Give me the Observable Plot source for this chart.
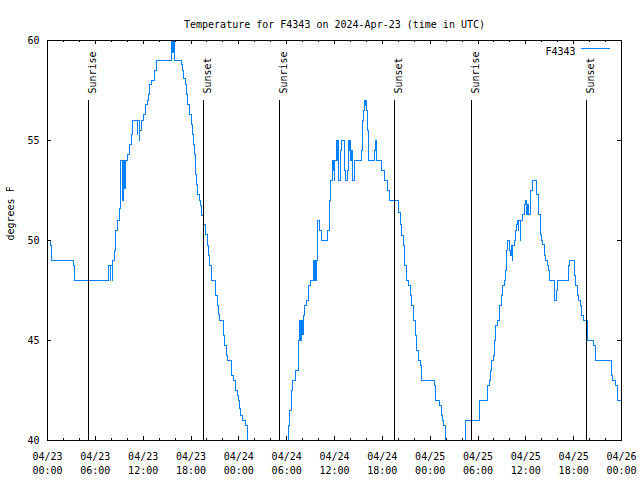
<!DOCTYPE html>
<html>
<head>
<meta charset="utf-8">
<script src="https://cdn.jsdelivr.net/npm/d3@7"></script>
<script src="https://cdn.jsdelivr.net/npm/@observablehq/plot@0.6"></script>
<style>
  html, body { margin: 0; padding: 0; background: #fff; }
</style>
</head>
<body>
<div id="chart"></div>
<script>
// ---- data (hours since 2024-04-23 00:00 UTC, temperature in °F) ----
const hours = [
  0, 0.38, 0.54, 3.22, 3.39, 7.65, 7.87, 7.94, 8.12, 8.19, 8.40, 8.57, 8.74, 8.99,
  9.19, 9.45, 9.53, 9.70, 9.78, 10.07, 10.32, 10.50, 10.66, 11.25, 11.35, 11.48, 11.58,
  11.75, 12.08, 12.33, 12.51, 12.67, 12.83, 13.01, 13.42, 13.67, 15.59, 15.72, 15.81, 15.89,
  16.77, 16.93, 17.10, 17.27, 17.44, 17.60, 17.85, 18.03, 18.19, 18.28, 18.44, 18.53, 18.60,
  18.73, 18.85, 19.03, 19.19, 19.36, 19.61, 19.86, 20.03, 20.20, 20.36, 20.53, 21.04, 21.29,
  21.45, 21.54, 22.04, 22.20, 22.45, 22.62, 23.04, 23.29, 23.55, 23.80, 23.96, 24.12, 24.21,
  24.46, 24.87, 25.05, 25.15, 26.97, 28.73,
  30.07, 30.27, 30.39, 30.57, 30.70, 31.15, 31.45, 31.52, 31.67, 31.77, 31.86, 31.95, 32.08,
  32.24, 32.49, 32.74, 32.99, 33.33, 33.41, 33.49, 33.58, 33.74, 33.91, 34.16, 34.41, 35.16,
  35.34, 35.37, 35.46, 35.54, 35.71, 35.79, 35.88, 35.96, 36.04, 36.21, 36.29, 36.38, 36.47,
  36.54, 36.72, 36.88, 37.22, 37.29, 37.38, 37.63, 37.72, 37.80, 37.88, 37.97, 38.05, 38.13,
  38.30, 38.47, 38.55, 39.39, 39.48, 39.55, 39.64, 39.73, 39.80, 39.89, 39.98, 40.05, 40.14,
  40.23, 40.30, 40.98, 41.14, 41.23, 41.31, 41.90, 42.24, 42.65, 42.90, 44.03, 44.28, 44.44,
  44.62, 44.78, 45.03, 45.28, 45.53, 45.70, 45.95, 46.12, 46.29, 46.54, 46.79, 46.95, 48.55,
  48.67, 49.21, 49.39, 49.55, 49.71, 49.89, 49.99, 51.18,
  52.22, 52.40, 52.47, 54.15, 54.23, 55.16, 55.41, 55.57, 55.73, 55.91, 56.07, 56.24, 56.49,
  56.66, 56.74, 56.91, 57.11, 57.29, 57.45, 57.62, 57.70, 57.95, 58.12, 58.20, 58.29, 58.37,
  58.54, 58.71, 58.87, 58.96, 59.04, 59.12, 59.30, 59.37, 59.55, 59.80, 59.96, 60.05, 60.21,
  60.34, 60.63, 60.80, 61.30, 61.38, 61.55, 61.63, 61.81, 61.88, 61.97, 62.13, 62.31, 62.38,
  62.47, 62.72, 62.81, 62.97, 63.56, 63.64, 63.81, 63.97, 65.39, 65.48, 66.07, 66.14, 66.27,
  66.44, 66.61, 66.86, 67.02, 67.20, 67.70, 68.53, 68.78, 70.71, 70.87, 71.29, 71.46, 72
];
const tempF = [
  50.0, 49.75, 49.0, 48.75, 48.0, 48.75, 48.0, 48.75, 48.0, 49.0, 49.5, 50.5, 51.0, 51.6,
  54.0, 52.0, 54.0, 52.6, 54.0, 54.3, 54.8, 55.3, 56.0, 55.3, 56.0, 55.0, 55.5,
  56.0, 56.3, 56.8, 57.0, 57.3, 57.8, 58.0, 58.5, 59.0, 60.0, 59.4, 60.0, 59.0,
  58.8, 58.5, 58.1, 57.8, 57.3, 56.8, 56.3, 55.8, 55.3, 54.8, 54.3, 53.8, 53.3,
  52.8, 52.3, 52.0, 51.75, 51.25, 50.8, 50.3, 49.75, 49.25, 48.75, 48.0, 47.25, 46.75,
  46.3, 46.0, 45.25, 44.75, 44.25, 44.0, 43.25, 43.0, 42.5, 42.25, 42.0, 41.6, 41.25,
  41.0, 40.75, 40.0, 39.5, 39.0, 39.5,
  40.0, 40.75, 41.5, 42.5, 43.0, 43.5, 44.5, 45.0, 46.0, 45.0, 46.0, 45.3, 46.25,
  46.75, 47.0, 47.75, 48.0, 49.0, 48.0, 49.0, 48.0, 49.0, 51.0, 50.5, 50.0, 50.5,
  51.5, 52.0, 52.5, 53.0, 53.7, 54.0, 53.5, 53.0, 54.0, 54.5, 55.0, 54.0, 55.0,
  53.0, 54.5, 55.0, 54.5, 53.5, 53.0, 53.5, 54.0, 55.0, 54.5, 55.0, 54.0, 54.5,
  53.0, 53.5, 54.0, 54.5, 55.5, 56.0, 56.5, 56.75, 57.0, 56.75, 57.0, 56.5, 55.5,
  54.5, 54.0, 54.5, 55.0, 54.5, 54.0, 53.5, 53.0, 52.5, 52.0, 51.4, 50.8, 50.25,
  49.75, 48.75, 48.0, 47.75, 47.25, 46.75, 46.0, 45.25, 44.5, 44.0, 43.75, 43.0, 42.75,
  42.0, 41.75, 41.25, 41.0, 40.75, 40.0, 39.5, 39.25,
  40.0, 40.75, 41.0, 41.75, 42.0, 42.75, 43.0, 43.5, 44.0, 44.25, 45.0, 45.75, 46.0,
  46.25, 46.75, 47.25, 47.75, 48.0, 48.5, 49.5, 50.0, 49.5, 49.25, 49.75, 49.0, 49.75,
  50.0, 50.5, 50.8, 51.0, 50.5, 51.0, 50.0, 51.0, 51.3, 51.8, 52.0, 51.3, 51.8,
  51.3, 52.5, 53.0, 52.8, 52.3, 51.8, 51.3, 50.8, 50.3, 50.0, 49.8, 49.5, 49.25,
  49.0, 48.75, 48.5, 48.0, 47.75, 47.0, 47.5, 48.0, 48.75, 49.0, 48.75, 48.25, 47.75,
  47.25, 47.0, 46.75, 46.25, 46.0, 45.0, 44.75, 44.0, 43.25, 43.0, 42.75, 42.0, 42.0
];
const sunHours = [5.18, 19.61, 29.14, 43.57, 53.22, 67.65];
const sunLabels = ["Sunrise", "Sunset", "Sunrise", "Sunset", "Sunrise", "Sunset"];
const xTickHours = [0, 6, 12, 18, 24, 30, 36, 42, 48, 54, 60, 66, 72];
const xMinorHours = [2, 4, 8, 10, 14, 16, 20, 22, 26, 28, 32, 34, 38, 40, 44, 46, 50, 52, 56, 58, 62, 64, 68, 70];
const yTicks = [40, 45, 50, 55, 60];
const titleText = "Temperature for F4343 on 2024-Apr-23 (time in UTC)";
const yLabel = "degrees F";
const seriesName = "F4343";

// ---- build ----
const t0 = Date.UTC(2024, 3, 23);
const toDate = h => new Date(t0 + h * 3600e3);
const records = hours.map((h, i) => ({date: toDate(h), temp: tempF[i]}));
const majorDates = xTickHours.map(toDate);
const minorDates = xMinorHours.map(toDate);
const sunEvents = sunHours.map((h, i) => ({date: toDate(h), label: sunLabels[i]}));

const W = 640, H = 480, ML = 47, MR = 19, MT = 40, MB = 40;
const FW = W - ML - MR, FH = H - MT - MB;
const fmtD = d3.utcFormat("%m/%d"), fmtT = d3.utcFormat("%H:%M");
const blue = "#0080ff";
const crisp = "crispEdges";

const chart = Plot.plot({
  width: W, height: H,
  marginLeft: ML, marginRight: MR, marginTop: MT, marginBottom: MB,
  style: {fontFamily: "'DejaVu Sans Mono', monospace", fontSize: "10px", background: "#fff", color: "#000"},
  x: {type: "utc", domain: [toDate(0), toDate(72)]},
  y: {domain: [40, 60]},
  marks: [
    Plot.line(records, {x: "date", y: "temp", curve: "step-after", stroke: blue, strokeWidth: 1, clip: true, shapeRendering: crisp}),
    Plot.ruleX(sunEvents, {x: "date", insetTop: 60, stroke: "#000", strokeWidth: 1, shapeRendering: crisp}),
    Plot.text(sunEvents, {x: "date", text: "label", frameAnchor: "top", dy: 53, dx: 0.5, rotate: -90, textAnchor: "start", fill: "#000"}),
    Plot.tickX(majorDates, {x: d => d, insetTop: FH - 4, stroke: "#000", shapeRendering: crisp}),
    Plot.tickX(majorDates, {x: d => d, insetBottom: FH - 4, stroke: "#000", shapeRendering: crisp}),
    Plot.tickX(minorDates, {x: d => d, insetTop: FH - 2, stroke: "#000", shapeRendering: crisp}),
    Plot.tickX(minorDates, {x: d => d, insetBottom: FH - 2, stroke: "#000", shapeRendering: crisp}),
    Plot.tickY(yTicks, {y: d => d, insetRight: FW - 4, stroke: "#000", shapeRendering: crisp}),
    Plot.tickY(yTicks, {y: d => d, insetLeft: FW - 4, stroke: "#000", shapeRendering: crisp}),
    Plot.axisX({ticks: majorDates, tickSize: 0, tickPadding: 10, lineHeight: 1.4, label: null,
      tickFormat: d => fmtD(d) + "\n" + fmtT(d)}),
    Plot.axisY({ticks: yTicks, tickSize: 0, tickPadding: 8, label: null}),
    Plot.frame({stroke: "#000", strokeWidth: 1, shapeRendering: crisp}),
    Plot.text([titleText], {frameAnchor: "top", dy: -20, fill: "#000"}),
    Plot.text([yLabel], {frameAnchor: "left", dx: -37, rotate: -90, fill: "#000"}),
    Plot.text([seriesName], {frameAnchor: "top-right", dx: -46, dy: 7, textAnchor: "end", fill: "#000"})
  ]
});

// legend sample line
d3.select(chart).append("line")
  .attr("x1", W - MR - 40).attr("x2", W - MR - 11)
  .attr("y1", MT + 8.5).attr("y2", MT + 8.5)
  .attr("stroke", blue).attr("stroke-width", 1)
  .attr("shape-rendering", crisp);

document.getElementById("chart").appendChild(chart);
</script>
</body>
</html>
